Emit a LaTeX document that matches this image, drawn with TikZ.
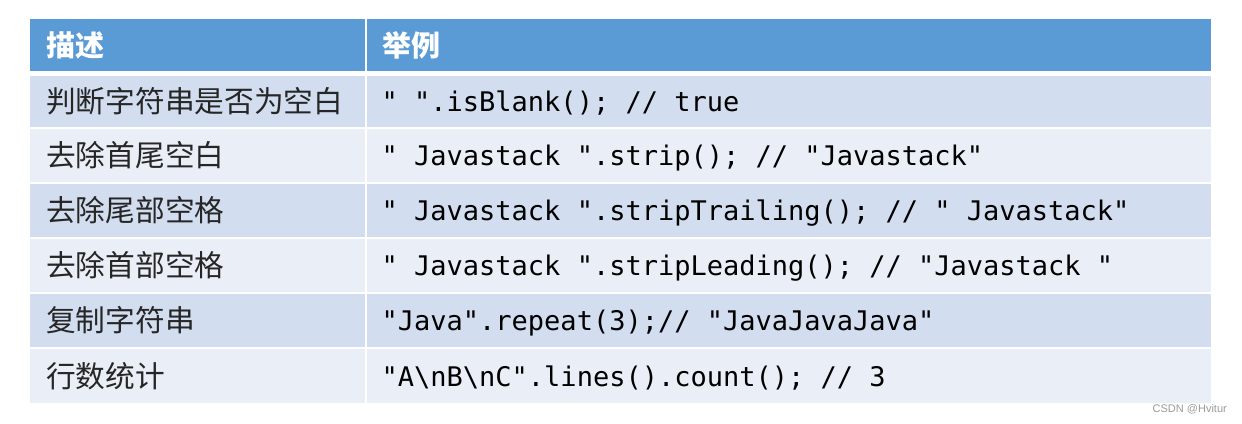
\documentclass[tikz,border=0pt]{standalone}
\usepackage{fontspec}
\setmainfont{Noto Sans CJK SC}
\setmonofont{DejaVu Sans Mono}
\newfontfamily\wmfont{Liberation Sans}
\definecolor{hdr}{HTML}{5B9BD5}
\definecolor{rowA}{HTML}{D2DEEF}
\definecolor{rowB}{HTML}{EAEFF7}
\definecolor{wmgray}{HTML}{9A9A9A}
\tikzset{
  cell/.style={draw=none, inner sep=0pt, outer sep=0pt, anchor=north west},
  lcell/.style={cell, minimum width=334.5pt},
  rcell/.style={cell, minimum width=844.5pt},
  hdrtext/.style={inner sep=0pt, anchor=west, text=white, font=\fontsize{29}{32}\selectfont\bfseries},
  cjktext/.style={inner sep=0pt, anchor=west, text=black!85, font=\fontsize{29.7}{32}\selectfont},
  codetext/.style={inner sep=0pt, anchor=base west, text=black, font=\fontsize{27}{30}\selectfont\ttfamily},
}
\begin{document}
\begin{tikzpicture}[x=1pt,y=-1pt]
\useasboundingbox (0,0) rectangle (1242,423);
% header
\node[lcell, fill=hdr, minimum height=52pt] (h1) at (30,19) {};
\node[rcell, fill=hdr, minimum height=52pt] (h2) at (366.5,19) {};
\node[hdrtext] (h1t) at ([xshift=16pt]h1.west) {描述};
\node[hdrtext] (h2t) at ([xshift=16pt]h2.west) {举例};
% rows
\node[lcell, fill=rowA, minimum height=51pt] (l1) at (30,76) {};
\node[rcell, fill=rowA, minimum height=51pt] (r1) at (366.5,76) {};
\node[lcell, fill=rowB, minimum height=53pt] (l2) at (30,129) {};
\node[rcell, fill=rowB, minimum height=53pt] (r2) at (366.5,129) {};
\node[lcell, fill=rowA, minimum height=53pt] (l3) at (30,184) {};
\node[rcell, fill=rowA, minimum height=53pt] (r3) at (366.5,184) {};
\node[lcell, fill=rowB, minimum height=53pt] (l4) at (30,239) {};
\node[rcell, fill=rowB, minimum height=53pt] (r4) at (366.5,239) {};
\node[lcell, fill=rowA, minimum height=53pt] (l5) at (30,294) {};
\node[rcell, fill=rowA, minimum height=53pt] (r5) at (366.5,294) {};
\node[lcell, fill=rowB, minimum height=54pt] (l6) at (30,349) {};
\node[rcell, fill=rowB, minimum height=54pt] (r6) at (366.5,349) {};
% left texts
\node[cjktext] (l1t) at ([xshift=16pt]l1.west) {判断字符串是否为空白};
\node[cjktext] (l2t) at ([xshift=16pt]l2.west) {去除首尾空白};
\node[cjktext] (l3t) at ([xshift=16pt]l3.west) {去除尾部空格};
\node[cjktext] (l4t) at ([xshift=16pt]l4.west) {去除首部空格};
\node[cjktext] (l5t) at ([xshift=16pt]l5.west) {复制字符串};
\node[cjktext] (l6t) at ([xshift=16pt]l6.west) {行数统计};
% right texts
\node[codetext] (r1t) at ([xshift=15pt,yshift=-10pt]r1.west) {" ".isBlank(); // true};
\node[codetext] (r2t) at ([xshift=15pt,yshift=-10pt]r2.west) {" Javastack ".strip(); // "Javastack"};
\node[codetext] (r3t) at ([xshift=15pt,yshift=-10pt]r3.west) {" Javastack ".stripTrailing(); // " Javastack"};
\node[codetext] (r4t) at ([xshift=15pt,yshift=-10pt]r4.west) {" Javastack ".stripLeading(); // "Javastack "};
\node[codetext] (r5t) at ([xshift=15pt,yshift=-10pt]r5.west) {"Java".repeat(3);// "JavaJavaJava"};
\node[codetext] (r6t) at ([xshift=15pt,yshift=-10pt]r6.west) {"A\textbackslash nB\textbackslash nC".lines().count(); // 3};
% watermark
\node[inner sep=0pt, anchor=east, text=wmgray, font=\wmfont\fontsize{11}{13}\selectfont] (wm) at (1227,409) {CSDN @Hvitur};
\end{tikzpicture}
\end{document}
